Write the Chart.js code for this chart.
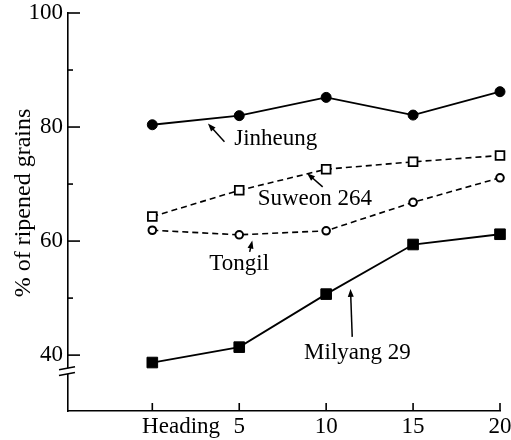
<!DOCTYPE html>
<html><head><meta charset="utf-8">
<script src="https://cdn.jsdelivr.net/npm/chart.js@4"></script>
<style>html,body{margin:0;padding:0;background:#fff}</style>
</head><body>
<canvas id="c" width="511" height="440"></canvas>
<script>
// ---- data ----
const days = [0, 5, 10, 15, 20];
const xTickLabels = ['Heading', '5', '10', '15', '20'];
const yTicks = [40, 50, 60, 70, 80, 90, 100];
const yLabelledTicks = [40, 60, 80, 100];
const jinheung  = [80.4, 82.0, 85.2, 82.1, 86.2];
const suweon264 = [64.3, 68.9, 72.6, 73.9, 75.0];
const tongil    = [61.9, 61.1, 61.8, 66.8, 71.1];
const milyang29 = [38.7, 41.4, 50.7, 59.4, 61.2];
const seriesNames = ['Jinheung', 'Suweon 264', 'Tongil', 'Milyang 29'];
const yTitle = '% of ripened grains';
// annotation label centres and arrows, in data units [day, %]
const labelPos  = [[7.1, 77.9], [9.35, 67.4], [5.0, 56.0], [11.8, 40.4]];
const arrowTail = [[4.15, 77.4], [9.8, 69.5], [5.6, 58.1], [11.5, 43.2]];
const arrowTip  = [[3.2, 80.6], [8.9, 71.9], [5.75, 60.1], [11.4, 51.6]];
const yBreak = [36.7, 37.7];

const FONT = "'Liberation Serif','Times New Roman',serif";
const toXY = arr => days.map((d, i) => ({x: d, y: arr[i]}));

const decor = {
  id: 'decor',
  afterDraw(chart) {
    const c = chart.ctx, xs = chart.scales.x, ys = chart.scales.y, a = chart.chartArea;
    c.save();
    c.strokeStyle = '#000'; c.fillStyle = '#000'; c.lineWidth = 1.6;
    // inward ticks on y
    yTicks.forEach(v => {
      const py = ys.getPixelForValue(v);
      const len = yLabelledTicks.includes(v) ? 12 : 5;
      c.beginPath(); c.moveTo(a.left, py); c.lineTo(a.left + len, py); c.stroke();
    });
    // inward ticks on x
    days.forEach(v => {
      const px = xs.getPixelForValue(v);
      c.beginPath(); c.moveTo(px, a.bottom); c.lineTo(px, a.bottom - 8); c.stroke();
    });
    // axis break
    const b1 = ys.getPixelForValue(yBreak[1]), b0 = ys.getPixelForValue(yBreak[0]);
    c.fillStyle = '#fff';
    c.fillRect(a.left - 3, b1, 6, b0 - b1);
    c.fillStyle = '#000';
    [b1, b0].forEach(py => {
      c.beginPath(); c.moveTo(a.left - 9, py + 1.5); c.lineTo(a.left + 7, py - 1.5); c.stroke();
    });
    // annotations
    c.font = '23px ' + FONT;
    c.textAlign = 'center'; c.textBaseline = 'middle';
    c.lineWidth = 1.5;
    seriesNames.forEach((name, i) => {
      c.fillText(name, xs.getPixelForValue(labelPos[i][0]), ys.getPixelForValue(labelPos[i][1]));
      const tx = xs.getPixelForValue(arrowTail[i][0]), ty = ys.getPixelForValue(arrowTail[i][1]);
      const hx = xs.getPixelForValue(arrowTip[i][0]), hy = ys.getPixelForValue(arrowTip[i][1]);
      const ang = Math.atan2(hy - ty, hx - tx);
      c.beginPath(); c.moveTo(tx, ty); c.lineTo(hx - 5 * Math.cos(ang), hy - 5 * Math.sin(ang)); c.stroke();
      c.beginPath();
      c.moveTo(hx, hy);
      c.lineTo(hx - 8 * Math.cos(ang) + 3 * Math.sin(ang), hy - 8 * Math.sin(ang) - 3 * Math.cos(ang));
      c.lineTo(hx - 8 * Math.cos(ang) - 3 * Math.sin(ang), hy - 8 * Math.sin(ang) + 3 * Math.cos(ang));
      c.closePath(); c.fill();
    });
    c.restore();
  }
};

new Chart(document.getElementById('c'), {
  type: 'line',
  data: {
    datasets: [
      {label: seriesNames[0], data: toXY(jinheung), borderColor: '#000', borderWidth: 1.8,
       pointStyle: 'circle', pointRadius: 5, pointBackgroundColor: '#000', pointBorderColor: '#000', pointBorderWidth: 1, clip: false},
      {label: seriesNames[1], data: toXY(suweon264), borderColor: '#000', borderWidth: 1.6, borderDash: [6, 4],
       pointStyle: 'rect', pointRadius: 6.2, pointBackgroundColor: '#fff', pointBorderColor: '#000', pointBorderWidth: 1.8, clip: false},
      {label: seriesNames[2], data: toXY(tongil), borderColor: '#000', borderWidth: 1.6, borderDash: [6, 4],
       pointStyle: 'circle', pointRadius: 3.8, pointBackgroundColor: '#fff', pointBorderColor: '#000', pointBorderWidth: 2, clip: false},
      {label: seriesNames[3], data: toXY(milyang29), borderColor: '#000', borderWidth: 1.8,
       pointStyle: 'rect', pointRadius: 7.5, pointBackgroundColor: '#000', pointBorderColor: '#000', pointBorderWidth: 1, clip: false}
    ]
  },
  options: {
    responsive: false, animation: false, devicePixelRatio: 1,
    layout: {padding: {top: 13, right: 11, left: 0, bottom: 0}},
    plugins: {legend: {display: false}, tooltip: {enabled: false}},
    scales: {
      x: {
        type: 'linear', min: -4.85, max: 20,
        afterBuildTicks: s => { s.ticks = days.map(v => ({value: v})); },
        afterFit: s => { s.height = 29; s.paddingLeft = 0; s.paddingRight = 0; },
        grid: {display: false, drawTicks: false},
        border: {display: true, color: '#000', width: 1.6},
        ticks: {
          padding: 2, color: '#000', font: {family: FONT, size: 23}, maxRotation: 0, autoSkip: false,
          callback: (v) => { const i = days.indexOf(v); return i === 0 ? '          ' + xTickLabels[i] : xTickLabels[i]; }
        }
      },
      y: {
        type: 'linear', min: 30.2, max: 100,
        afterBuildTicks: s => { s.ticks = yTicks.map(v => ({value: v})); },
        afterFit: s => { s.width = 68; s.paddingTop = 0; s.paddingBottom = 0; },
        grid: {display: false, drawTicks: false},
        border: {display: true, color: '#000', width: 1.6},
        ticks: {
          padding: 5, color: '#000', font: {family: FONT, size: 23}, autoSkip: false,
          callback: (v) => yLabelledTicks.includes(v) ? String(v) : ''
        },
        title: {display: true, text: '   ' + yTitle, color: '#000', font: {family: FONT, size: 24}, padding: {top: 9, bottom: 0}}
      }
    }
  },
  plugins: [decor]
});
</script>
</body></html>
